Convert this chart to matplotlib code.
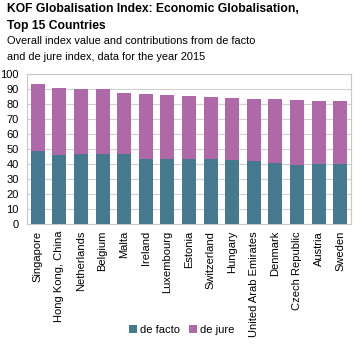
import numpy as np
import matplotlib.pyplot as plt
from matplotlib import font_manager

countries = ["Singapore", "Hong Kong, China", "Netherlands", "Belgium", "Malta",
             "Ireland", "Luxembourg", "Estonia", "Switzerland", "Hungary",
             "United Arab Emirates", "Denmark", "Czech Republic", "Austria", "Sweden"]
total = [93.2, 90.7, 90.1, 90.0, 87.6, 86.9, 86.2, 85.1, 84.4, 84.0,
         83.3, 83.1, 82.4, 81.9, 81.9]
de_facto = [48.6, 45.8, 46.4, 46.4, 46.5, 43.3, 43.5, 43.3, 43.3, 42.6,
            41.9, 41.0, 39.5, 40.0, 39.8]
de_jure = [t - f for t, f in zip(total, de_facto)]

names = {f.name for f in font_manager.fontManager.ttflist}
narrow = "Liberation Sans Narrow" if "Liberation Sans Narrow" in names else "Liberation Sans"
plt.rcParams['font.family'] = [narrow, 'DejaVu Sans']

fig = plt.figure(figsize=(3.64, 3.52), dpi=100)
ax = fig.add_axes([27 / 364, 1 - 224 / 352, 324 / 364, 150 / 352])

x = np.arange(len(countries))
ax.bar(x, de_facto, width=0.65, color="#45798f", label="de facto", zorder=3)
ax.bar(x, de_jure, width=0.65, bottom=de_facto, color="#b069a8", label="de jure", zorder=3)

ax.set_xlim(-0.5, len(countries) - 0.5)
ax.set_ylim(0, 100)
ax.set_yticks(range(0, 101, 10))
ax.tick_params(axis="y", length=0, labelsize=8, pad=6)
ax.tick_params(axis="x", length=0, labelsize=8, pad=5)
ax.set_xticks(x)
ax.set_xticklabels(countries, rotation=90)
ax.grid(axis="y", color="#d0d0d0", linewidth=0.8, zorder=0)
for s in ax.spines.values():
    s.set_color("#c8c8c8")
    s.set_linewidth(0.8)

fig.text(7 / 364, 1 - 3 / 352, "KOF Globalisation Index: Economic Globalisation,\nTop 15 Countries",
         fontsize=8.7, fontweight="bold", family=["Liberation Sans", "DejaVu Sans"],
         va="top", ha="left", linespacing=1.6)
fig.text(7 / 364, 1 - 36 / 352, "Overall index value and contributions from de facto\nand de jure index, data for the year 2015",
         fontsize=7.9, family=["Liberation Sans", "DejaVu Sans"],
         va="top", ha="left", linespacing=1.7)

fig.legend(loc="center", bbox_to_anchor=(182 / 364, 1 - 330 / 352), ncol=2, frameon=False,
           fontsize=8, handlelength=0.7, handleheight=0.7, handletextpad=0.3, columnspacing=0.8)

fig.savefig("out.png", dpi=100)
